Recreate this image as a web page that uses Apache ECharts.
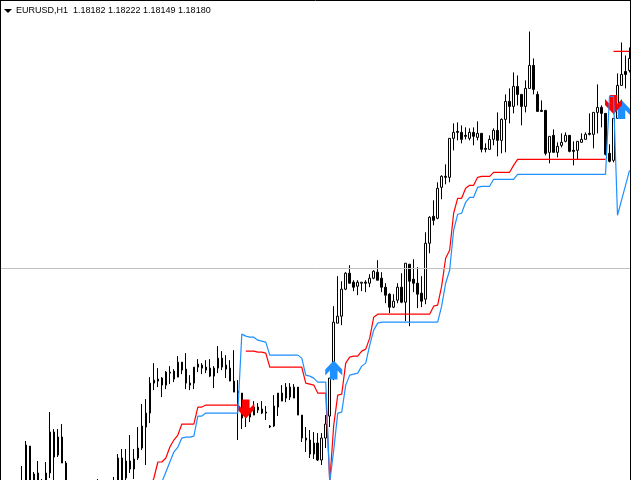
<!DOCTYPE html>
<html><head><meta charset="utf-8">
<style>html,body{margin:0;padding:0;background:#fff}#c{width:640px;height:480px}</style>
<script src="https://cdn.jsdelivr.net/npm/echarts@6/dist/echarts.min.js"></script>
</head><body><div id="c"></div>
<script>
// All values are in chart ticks above the base price (1 tick = 0.00003).
const BASE = 1.16893, STEP = 0.00003, TICKS = 480;
const headerText = 'EURUSD,H1  1.18182 1.18222 1.18149 1.18180';
const N = null;
const opens = [N,N,N,N,N,-15,-5,34,-10,7,-5,-10,7,48,25,43,17,N,N,N,N,N,N,N,-10,N,N,N,-5,-10,22,2,19,11,22,32,53,67,97,101,102,95,107,109,103,118,111,97,97,113,115,113,112,104,112,122,115,112,99,89,87,70,63,65,73,71,68,54,54,73,87,82,93,82,93,65,42,40,26,37,20,42,64,102,157,164,191,207,198,194,197,198,197,202,208,202,193,186,173,180,193,178,216,201,197,187,181,237,264,262,293,304,303,342,349,348,345,342,348,343,347,332,331,341,350,340,361,379,374,394,386,374,392,415,386,370,370,328,345,328,335,339,345,330,330,338,341,347,346,368,373,367,327,320,362,395,409,410];
const closes = [N,N,N,N,N,-5,35,-10,6,-10,-10,7,48,23,43,17,-5,N,N,N,N,N,N,N,-5,N,N,N,-10,22,-10,19,11,21,32,54,67,97,100,99,95,108,108,101,118,110,97,95,113,116,112,110,104,112,122,113,111,99,88,87,62,63,67,73,70,67,67,53,74,87,79,93,83,93,65,42,40,26,37,20,42,56,102,158,164,191,207,197,193,198,198,197,202,209,200,193,185,173,179,193,178,217,199,197,186,179,237,263,260,292,304,303,342,348,348,341,344,348,344,347,331,331,341,350,340,361,379,374,394,386,374,392,415,391,369,369,327,344,328,334,338,345,329,329,339,341,346,346,368,373,367,326,319,362,395,406,406,422];
const lows = [N,N,N,N,N,-20,-10,-15,-15,-15,-15,-15,2,-2,23,17,-10,N,N,N,N,N,N,N,-15,N,N,N,-15,-15,-15,-2,7,1,20,30,15,57,90,93,83,91,96,98,103,106,91,90,91,108,106,107,103,92,107,110,102,99,88,40,51,53,58,65,67,66,60,52,53,64,79,78,80,82,65,38,28,22,21,19,15,32,53,100,157,155,190,197,189,185,189,188,193,201,200,188,177,167,172,177,177,159,154,188,172,173,176,227,255,261,281,296,298,330,340,337,341,340,335,340,328,328,331,335,324,327,328,357,367,375,355,368,392,386,369,369,325,317,328,323,333,338,328,315,321,338,341,345,332,347,353,325,318,318,362,395,392,408];
const highs = [N,N,N,N,N,14,39,34,8,19,1,18,68,51,51,56,19,N,N,N,N,N,N,N,1,N,N,N,3,26,31,31,45,31,53,76,81,103,117,112,103,109,114,111,124,118,127,105,113,121,117,120,121,114,134,129,125,120,130,100,87,75,72,79,77,79,74,55,85,87,95,97,97,96,93,65,53,50,48,47,47,65,102,174,204,199,208,215,200,200,198,200,206,210,220,208,197,187,186,197,207,217,216,221,213,204,248,264,280,298,305,316,342,357,358,355,353,352,353,359,347,337,345,352,368,362,386,392,408,405,386,400,449,422,389,380,370,344,351,338,347,348,345,339,339,347,348,367,368,396,375,367,336,362,407,438,425,433];
const redLine = [N,N,N,N,N,N,N,N,N,N,N,N,N,N,N,N,N,N,N,N,N,N,N,N,N,N,N,N,N,N,N,N,N,N,N,N,N,-10,2,18,18,22,33,40,45,56,56,56,56,73,73,75,75,75,75,75,75,75,75,75,N,129,129,129,128,128,127,113,113,113,113,113,113,113,113,113,97,96,95,87,87,87,-2,55,85,86,117,123,124,124,129,131,142,163,166,166,166,166,166,166,166,166,166,166,166,166,166,166,174,175,194,222,230,267,282,282,292,295,295,303,304,304,304,308,308,308,308,308,315,321,321,321,321,321,321,321,321,321,321,321,321,321,321,321,321,321,321,321,321,321,321,321,N,N,N,N,N,N];
const blueLine = [N,N,N,N,N,N,N,N,N,N,N,N,N,N,N,N,N,N,N,N,N,N,N,N,N,N,N,N,N,N,N,N,N,N,N,N,N,N,N,-30,-2,8,18,28,33,42,43,43,44,64,64,67,67,67,67,67,67,67,67,67,146,144,143,143,140,139,138,125,125,125,125,125,125,125,125,122,105,104,102,98,98,98,-2,30,67,68,95,105,106,107,114,117,135,150,157,158,158,158,158,158,158,158,158,158,158,158,158,158,158,158,174,197,210,250,266,267,278,283,283,293,294,294,294,301,301,301,301,301,301,306,306,306,306,306,306,306,306,306,306,306,306,306,306,306,306,306,306,306,306,306,306,306,384,384,265,280,295,310];
const priceMark = [N,N,N,N,N,N,N,N,N,N,N,N,N,N,N,N,N,N,N,N,N,N,N,N,N,N,N,N,N,N,N,N,N,N,N,N,N,N,N,N,N,N,N,N,N,N,N,N,N,N,N,N,N,N,N,N,N,N,N,N,N,N,N,N,N,N,N,N,N,N,N,N,N,N,N,N,N,N,N,N,N,N,N,N,N,N,N,N,N,N,N,N,N,N,N,N,N,N,N,N,N,N,N,N,N,N,N,N,N,N,N,N,N,N,N,N,N,N,N,N,N,N,N,N,N,N,N,N,N,N,N,N,N,N,N,N,N,N,N,N,N,N,N,N,N,N,N,N,N,N,N,N,N,429,429,429,429,429];
const levelLine = 212;
const buyIndex = [83,155], buyValue = [110,371];
const sellIndex = [61,153], sellValue = [71,376];

const price = t => t === null ? null : BASE + t * STEP;
const cats = opens.map((_, i) => String(i));
const candles = opens.map((o, i) => o === null ? '-' : [price(o), price(closes[i]), price(lows[i]), price(highs[i])]);
const lineData = a => a.map(v => v === null ? '-' : price(v));
const ARROW = 'path://M9 0L18 9L18 15L13 10L13 19L5 19L5 10L0 15L0 9Z';
const chart = echarts.init(document.getElementById('c'), null, {renderer: 'canvas'});
const lineS = (name, data, color, z, extra) => Object.assign({type: 'line', name, data: lineData(data), showSymbol: false, symbol: 'none', connectNulls: false, z, silent: true, lineStyle: {color, width: 1.2}}, extra || {});
const arrows = (name, idx, val, color, rot, z) => ({type: 'scatter', name, data: idx.map((x, i) => [x, price(val[i])]), symbol: ARROW, symbolSize: [17, 19], symbolRotate: rot, itemStyle: {color, opacity: 1}, z, silent: true});
chart.setOption({
  animation: false,
  backgroundColor: '#fff',
  title: {text: headerText, left: 16, top: 6, padding: 0, textStyle: {fontFamily: 'Liberation Sans', fontSize: 9, fontWeight: 'normal', color: '#000'}},
  grid: {left: -0.5, top: 0.5, width: 632, height: 480},
  xAxis: {type: 'category', data: cats, show: false, boundaryGap: true},
  yAxis: {type: 'value', show: false, min: BASE, max: BASE + TICKS * STEP, scale: true},
  tooltip: {show: false},
  series: [
    {type: 'candlestick', name: 'EURUSD', data: candles, barWidth: 2, clip: true, z: 1, silent: true,
     itemStyle: {color: '#fff', color0: '#000', borderColor: '#000', borderColor0: '#000', borderColorDoji: '#000', borderWidth: 1}},
    arrows('buy', buyIndex, buyValue, '#1E90FF', 0, 2),
    arrows('sell', sellIndex, sellValue, '#FF0000', 180, 3),
    lineS('red', redLine, '#FF0000', 4),
    lineS('blue', blueLine, '#1E90FF', 5),
    lineS('mark', priceMark, '#FF0000', 4, {markLine: {silent: true, symbol: 'none', precision: 5, label: {show: false}, animation: false, lineStyle: {color: '#c0c0c0', width: 1, type: 'solid'}, data: [{yAxis: price(levelLine)}]}})
  ],
  graphic: [
    {type: 'polygon', z: 100, silent: true, shape: {points: [[4, 9], [12, 9], [8, 13]]}, style: {fill: '#000'}},
    {type: 'line', z: 100, silent: true, shape: {x1: 0.5, y1: 0, x2: 0.5, y2: 480}, style: {stroke: '#000', lineWidth: 1}},
    {type: 'line', z: 100, silent: true, shape: {x1: 0, y1: 0.5, x2: 631, y2: 0.5}, style: {stroke: '#000', lineWidth: 1}},
    {type: 'line', z: 100, silent: true, shape: {x1: 630.5, y1: 0, x2: 630.5, y2: 480}, style: {stroke: '#000', lineWidth: 1}},
    {type: 'rect', z: 100, silent: true, shape: {x: 631, y: 0, width: 9, height: 480}, style: {fill: '#fff'}}
  ]
});
</script></body></html>
